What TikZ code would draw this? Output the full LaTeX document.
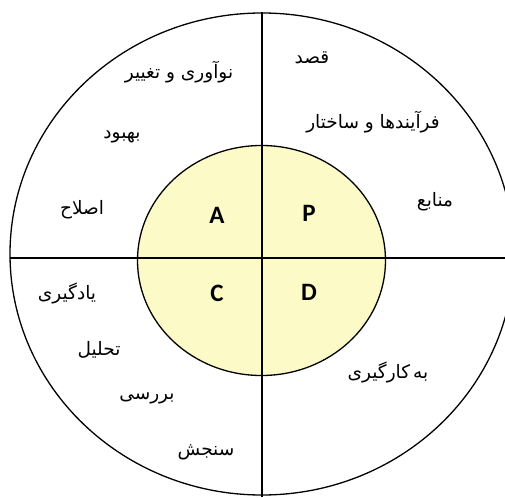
\documentclass[tikz,border=0pt]{standalone}
\usepackage{fontspec}
\setmainfont{Carlito}
\newfontfamily\arabicfont[Script=Arabic]{DejaVu Sans}
\TeXXeTstate=1
\definecolor{innerfill}{RGB}{252,250,198}
\begin{document}
\begin{tikzpicture}[x=1pt,y=-1pt,
  ring/.style={draw=black,line width=1.3pt},
  axis/.style={draw=black,line width=1.1pt},
  letter/.style={font=\fontsize{25}{27}\selectfont\bfseries,inner sep=0pt},
  fa/.style={font=\arabicfont\fontsize{18.5}{21}\selectfont,inner sep=0pt}]
\useasboundingbox (0,0) rectangle (505,497);
% inner disc fill
\fill[innerfill] (261.5,260.5) ellipse [x radius=124pt, y radius=115pt];
% axes
\coordinate (top) at (262,12);
\coordinate (bottom) at (262,497);
\coordinate (left) at (10,258);
\coordinate (right) at (505,258);
\draw[axis] (top) -- (bottom);
\draw[axis] (left) -- (right);
% inner ring
\draw[ring] (261.5,260.5) ellipse [x radius=124pt, y radius=115pt];
% outer ring
\begin{scope}
\clip (0,0) rectangle (505,497);
\draw[ring] (262,254) ellipse [x radius=252pt, y radius=241pt];
\end{scope}
% letters
\node[letter] (A) at (217,215) {A};
\node[letter] (P) at (309,213) {P};
\node[letter] (C) at (217,293) {C};
\node[letter] (D) at (309,292) {D};
% Persian labels
\node[fa] (t1) at (179,72) {\beginR نوآوری و تغییر\endR};
\node[fa] (t2) at (122,137) {\beginR بهبود\endR};
\node[fa] (t3) at (82,210) {\beginR اصلاح\endR};
\node[fa] (t4) at (312,58) {\beginR قصد\endR};
\node[fa] (t5) at (373,122) {\beginR فرآیندها و ساختار\endR};
\node[fa] (t6) at (435,202) {\beginR منابع\endR};
\node[fa] (t7) at (67,293) {\beginR یادگیری\endR};
\node[fa] (t8) at (99,350) {\beginR تحلیل\endR};
\node[fa] (t9) at (147,398) {\beginR بررسی\endR};
\node[fa] (t10) at (206,452) {\beginR سنجش\endR};
\node[fa] (t11) at (388,372) {\beginR به\,کارگیری\endR};
\end{tikzpicture}
\end{document}
